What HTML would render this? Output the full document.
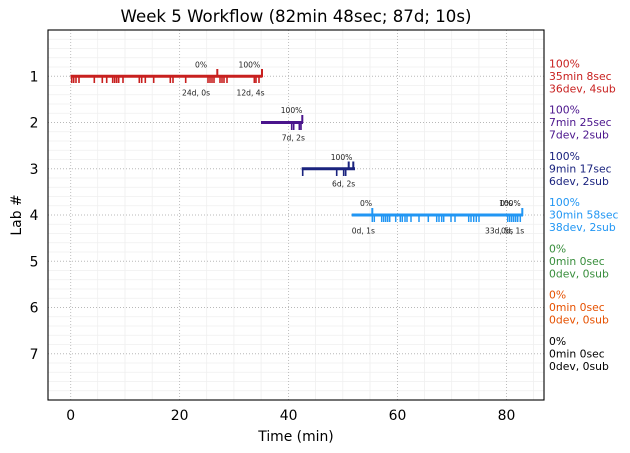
<!DOCTYPE html>
<html><head><meta charset="utf-8"><style>
html,body{margin:0;padding:0;background:#fff;}
svg{display:block;font-family:"DejaVu Sans","Liberation Sans",sans-serif;}
</style></head><body>
<svg width="630" height="453" viewBox="0 0 630 453" xmlns="http://www.w3.org/2000/svg">
<rect width="630" height="453" fill="#fff"/>
<!-- minor grid -->
<g stroke="#efefef" stroke-width="0.8">
<path d="M97.7 30V400M125 30V400M152.2 30V400M206.7 30V400M233.9 30V400M261.1 30V400M315.6 30V400M342.8 30V400M370 30V400M424.5 30V400M451.7 30V400M478.9 30V400M533.4 30V400"/>
<path d="M48 39.25H544M48 48.5H544M48 57.75H544M48 67H544M48 85.5H544M48 94.75H544M48 104H544M48 113.25H544M48 131.75H544M48 141H544M48 150.25H544M48 159.5H544M48 178H544M48 187.25H544M48 196.5H544M48 205.75H544M48 224.25H544M48 233.5H544M48 242.75H544M48 252H544M48 270.5H544M48 279.75H544M48 289H544M48 298.25H544M48 316.75H544M48 326H544M48 335.25H544M48 344.5H544M48 363H544M48 372.25H544M48 381.5H544M48 390.75H544"/>
</g>
<!-- major grid -->
<g stroke="#b8b8b8" stroke-width="0.9" stroke-dasharray="1,2">
<path d="M70.7 30V400M179.6 30V400M288.6 30V400M397.5 30V400M506.5 30V400"/>
<path d="M48 76.25H544M48 122.5H544M48 168.75H544M48 215H544M48 261.25H544M48 307.5H544M48 353.75H544"/>
</g>
<!-- Lab 1 -->
<g stroke="#c8201f" fill="none">
<path d="M70.5 76.25H262.5" stroke-width="3"/>
<path stroke-width="1.6" d="M71.7 76V83M73.7 76V83M76 76V83M79 76V83M94.3 76V83M102.3 76V83M106.7 76V83M112.7 76V83M114.7 76V83M116.7 76V83M118.7 76V83M123 76V83M139.3 76V83M141.7 76V83M145.3 76V83M153.7 76V83M170.3 76V83M173 76V83M185.7 76V83M208 76V83M210 76V83M212 76V83M214 76V83M220 76V83M222 76V83M224 76V83M227 76V83M254.3 76V83M256 76V83M259 76V83"/>
<path stroke-width="2" d="M217.3 69V77M262 69V77"/>
</g>
<!-- Lab 2 -->
<g stroke="#4a148c" fill="none">
<path d="M261 122.5H303" stroke-width="3"/>
<path stroke-width="1.6" d="M291.7 122V130M293.7 122V130M299.3 122V130M301 122V130"/>
<path stroke-width="2" d="M302.3 115V123"/>
</g>
<!-- Lab 3 -->
<g stroke="#1a237e" fill="none">
<path d="M301.7 168.75H355" stroke-width="3"/>
<path stroke-width="1.6" d="M302.7 168V176M336.7 168V176M343.7 168V176M345.7 168V176"/>
<path stroke-width="2" d="M348.7 161.5V169M353.3 161.5V169"/>
</g>
<!-- Lab 4 -->
<g stroke="#2196f3" fill="none">
<path d="M351.7 215H523" stroke-width="3"/>
<path stroke-width="1.5" d="M372.3 215V222M374.3 215V222M381.7 215V222M383.7 215V222M385.7 215V222M387.7 215V222M389.7 215V222M395.7 215V222M400.3 215V222M402.3 215V222M405 215V222M407 215V222M411 215V222M419 215V222M428.3 215V222M436.7 215V222M439 215V222M441.7 215V222M443.7 215V222M451 215V222M455 215V222M468.7 215V222M471 215V222M473.7 215V222M476.3 215V222M479 215V222M507.7 215V222M509.7 215V222M511.7 215V222M513.7 215V222M515.7 215V222M517.7 215V222M520.3 215V222"/>
<path stroke-width="2" d="M372.3 208V216M522.3 208V216"/>
</g>
<!-- small annotations -->
<g font-size="7.6" fill="#222">
<text x="195" y="67.3">0%</text>
<text x="238.5" y="67.3">100%</text>
<text x="182" y="95.3">24d, 0s</text>
<text x="236.5" y="95.3">12d, 4s</text>
<text x="280.7" y="113">100%</text>
<text x="281.7" y="140.5">7d, 2s</text>
<text x="330.7" y="160">100%</text>
<text x="332" y="186.5">6d, 2s</text>
<text x="360" y="206">0%</text>
<text x="351.7" y="233.5">0d, 1s</text>
<text x="499" y="206">100%</text>
<text x="500" y="206">0%</text>
<text x="485" y="233.5">33d, 5s</text>
<text x="501" y="233.5">0d, 1s</text>
</g>
<!-- spines -->
<rect x="48" y="30" width="496" height="370" fill="none" stroke="#000" stroke-width="1.1"/>
<!-- tick labels -->
<g font-size="13.9" fill="#000" text-anchor="middle">
<text x="70.7" y="420">0</text>
<text x="179.6" y="420">20</text>
<text x="288.6" y="420">40</text>
<text x="397.5" y="420">60</text>
<text x="506.5" y="420">80</text>
</g>
<g font-size="13.9" fill="#000" text-anchor="end">
<text x="38.5" y="81.3">1</text>
<text x="38.5" y="127.5">2</text>
<text x="38.5" y="173.8">3</text>
<text x="38.5" y="220">4</text>
<text x="38.5" y="266.3">5</text>
<text x="38.5" y="312.5">6</text>
<text x="38.5" y="358.8">7</text>
</g>
<text x="296" y="441" font-size="13.9" text-anchor="middle">Time (min)</text>
<text transform="translate(21 215) rotate(-90)" font-size="13.9" text-anchor="middle">Lab #</text>
<text x="296" y="22" font-size="16.6" text-anchor="middle">Week 5 Workflow (82min 48sec; 87d; 10s)</text>
<!-- right labels -->
<g font-size="10.8">
<g fill="#c8201f"><text x="549" y="67.3">100%</text><text x="549" y="79.8">35min 8sec</text><text x="549" y="92.3">36dev, 4sub</text></g>
<g fill="#4a148c"><text x="549" y="113.5">100%</text><text x="549" y="126">7min 25sec</text><text x="549" y="138.5">7dev, 2sub</text></g>
<g fill="#1a237e"><text x="549" y="159.8">100%</text><text x="549" y="172.3">9min 17sec</text><text x="549" y="184.8">6dev, 2sub</text></g>
<g fill="#2196f3"><text x="549" y="206">100%</text><text x="549" y="218.5">30min 58sec</text><text x="549" y="231">38dev, 2sub</text></g>
<g fill="#388e3c"><text x="549" y="252.3">0%</text><text x="549" y="264.8">0min 0sec</text><text x="549" y="277.3">0dev, 0sub</text></g>
<g fill="#e65100"><text x="549" y="298.5">0%</text><text x="549" y="311">0min 0sec</text><text x="549" y="323.5">0dev, 0sub</text></g>
<g fill="#000"><text x="549" y="344.8">0%</text><text x="549" y="357.3">0min 0sec</text><text x="549" y="369.8">0dev, 0sub</text></g>
</g>
</svg>
</body></html>
